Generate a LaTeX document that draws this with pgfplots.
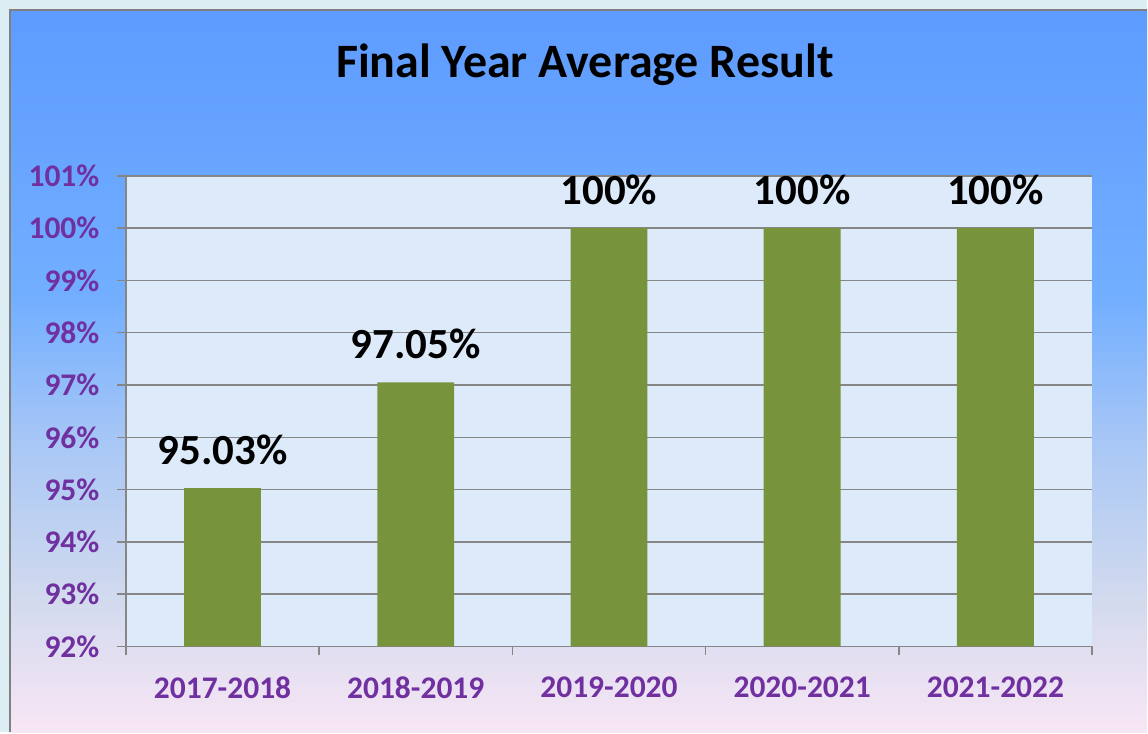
\documentclass[border=0pt]{standalone}
\usepackage{fontspec}
\setmainfont{Carlito}
\usepackage{pgfplots}
\pgfplotsset{compat=1.18}
\usepackage{pgfplotstable}
\definecolor{barcol}{RGB}{119,147,60}
\definecolor{tickpurple}{RGB}{112,48,160}
\definecolor{gridgray}{RGB}{134,134,134}
\definecolor{outerbg}{RGB}{220,238,243}
\definecolor{plotbg}{RGB}{221,234,249}
\pgfdeclareverticalshading{chartbg}{100bp}{
 rgb(0bp)=(0.973,0.902,0.961);
 rgb(25bp)=(0.973,0.902,0.961);
 rgb(34.2bp)=(0.824,0.855,0.933);
 rgb(44.6bp)=(0.667,0.784,0.961);
 rgb(54.9bp)=(0.451,0.686,1.0);
 rgb(75bp)=(0.365,0.608,1.0);
 rgb(100bp)=(0.365,0.608,1.0)}
\pgfplotstableread{
x y label
0 95.03 95.03
1 97.05 97.05
2 100 100
3 100 100
4 100 100
}\datatable
\begin{document}
\begin{tikzpicture}[x=1pt,y=1pt]
\fill[outerbg] (0,0) rectangle (1148,733);
\shade[shading=chartbg] (10,0) rectangle (1148,723);
\draw[gray, line width=2pt] (10,0) -- (10,723) -- (1148,723);
\begin{axis}[
  at={(126pt,86pt)}, anchor=south west,
  scale only axis, width=967pt, height=471pt,
  xmin=-0.5, xmax=4.5, ymin=92, ymax=101,
  axis x line*=bottom, axis y line*=left,
  axis line style={-, draw=gridgray, line width=1.5pt},
  axis background/.style={fill=plotbg},
  ytick={92,93,...,101},
  yticklabels={92\%,93\%,94\%,95\%,96\%,97\%,98\%,99\%,100\%,101\%},
  xtick={0,1,2,3,4},
  xticklabels={2017-2018,2018-2019,2019-2020,2020-2021,2021-2022},
  minor xtick={-0.5,0.5,1.5,2.5,3.5,4.5},
  tick align=outside,
  major tick length=9pt, minor tick length=9pt,
  major x tick style={draw=none},
  minor x tick style={draw=gridgray, line width=1.5pt},
  major y tick style={draw=gridgray, line width=1.5pt},
  ymajorgrids, major grid style={draw=gridgray, line width=1.5pt},
  ticklabel style={font=\fontsize{31.5}{38}\selectfont\bfseries, text=tickpurple},
  yticklabel style={xshift=-14pt},
  xticklabel style={yshift=-18pt},
  /pgf/number format/assume math mode=true,
  title={Final Year Average Result},
  title style={at={(0.475,1)}, anchor=base, yshift=92pt, font=\fontsize{48}{58}\selectfont\bfseries, text=black},
]
\addplot[ybar, bar width=77pt, fill=barcol, draw=none,
  nodes near coords={\pgfplotspointmeta\%},
  point meta=explicit symbolic,
  every node near coord/.append style={anchor=base, yshift=24pt, inner sep=0pt, font=\fontsize{43}{52}\selectfont\bfseries, text=black}]
  table[x=x, y=y, meta=label]{\datatable};
\end{axis}
\end{tikzpicture}
\end{document}
